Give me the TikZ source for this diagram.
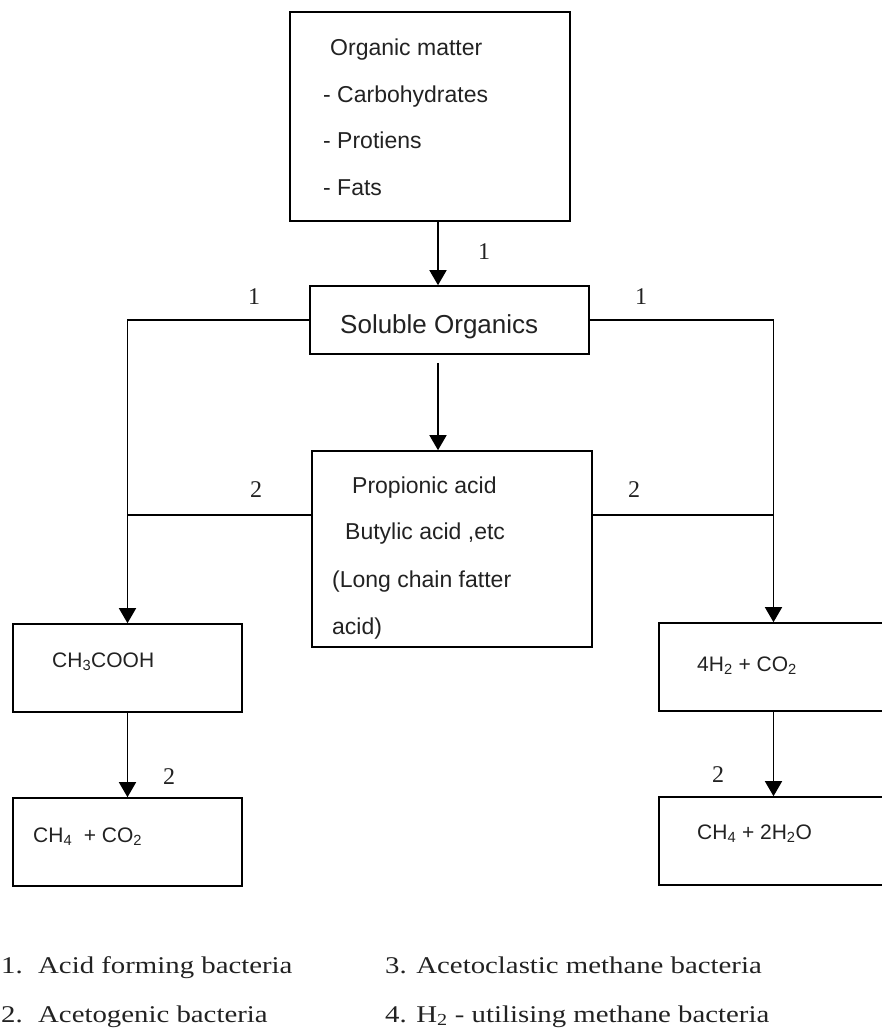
\documentclass[tikz,border=0pt]{standalone}
\usepackage{fontspec}
\setmainfont{Liberation Serif}
\newfontfamily\boxfont{Liberation Sans}
\newfontfamily\legfont[FakeStretch=1.2]{Liberation Serif}
\usetikzlibrary{arrows.meta}
\definecolor{ink}{HTML}{222222}
\tikzset{
  box/.style={draw=black, line width=1.6pt, minimum width=#1, inner sep=0pt},
  conn/.style={line width=1.5pt, draw=black},
  arr/.style={conn, -{Triangle[length=15pt,width=17pt]}},
  btxt/.style={font=\boxfont\fontsize{23pt}{27pt}\selectfont, text=ink, inner sep=0pt, anchor=base west},
  stxt/.style={font=\boxfont\fontsize{21pt}{25pt}\selectfont, text=ink, inner sep=0pt, anchor=base west},
  num/.style={font=\fontsize{24pt}{28pt}\selectfont, text=ink, inner sep=0pt},
  leg/.style={font=\legfont\fontsize{24pt}{28pt}\selectfont, text=ink, inner sep=0pt, anchor=base west}
}
\begin{document}
\begin{tikzpicture}[x=1pt,y=-1pt]
\useasboundingbox (0,0) rectangle (882,1028);
% boxes
\node[box=280pt, minimum height=209pt] (top) at (430,116.5) {};
\node[box=279pt, minimum height=68pt] (sol) at (449.5,320) {};
\node[box=280pt, minimum height=196pt] (prop) at (452,549) {};
\node[box=229pt, minimum height=88pt] (ch3) at (127.5,668) {};
\node[box=229pt, minimum height=88pt] (ch4a) at (127.5,842) {};
\node[box=229pt, minimum height=88pt] (h2) at (773.5,667) {};
\node[box=229pt, minimum height=88pt] (ch4b) at (773.5,841) {};
% texts in boxes
\node[btxt] (t1) at (330,55) {Organic matter};
\node[btxt] (t2) at (323,102) {- Carbohydrates};
\node[btxt] (t3) at (323,148) {- Protiens};
\node[btxt] (t4) at (323,195) {- Fats};
\node[btxt, font=\boxfont\fontsize{26pt}{30pt}\selectfont] (t5) at (340,333) {Soluble Organics};
\node[btxt] (t6) at (352,493) {Propionic acid};
\node[btxt] (t7) at (345,539) {Butylic acid ,etc};
\node[btxt] (t8) at (332,587) {(Long chain fatter};
\node[btxt] (t9) at (332,634) {acid)};
\node[stxt] (t10) at (52,667) {CH\textsubscript{3}COOH};
\node[stxt] (t11) at (33,842) {CH\textsubscript{4}\ \ + CO\textsubscript{2}};
\node[stxt] (t12) at (697,671) {4H\textsubscript{2} + CO\textsubscript{2}};
\node[stxt] (t13) at (697,839) {CH\textsubscript{4} + 2H\textsubscript{2}O};
% connectors
\coordinate (ax) at (438,0);
\coordinate (ly) at (0,515);
\draw[arr] (top.south -| ax) -- (sol.north -| ax);
\draw[arr] (sol.west) -| (ch3.north);
\draw[arr] (sol.east) -| (h2.north);
\draw[arr, shorten <=8pt] (sol.south -| ax) -- (prop.north -| ax);
\draw[conn] (prop.west |- ly) -- (ch3.north |- ly);
\draw[conn] (prop.east |- ly) -- (h2.north |- ly);
\draw[arr] (ch3.south) -- (ch4a.north);
\draw[arr] (h2.south) -- (ch4b.north);
% labels
\node[num] (n1) at (484,252) {1};
\node[num] (n2) at (254,297) {1};
\node[num] (n3) at (641,297) {1};
\node[num] (n4) at (256,490) {2};
\node[num] (n5) at (634,490) {2};
\node[num] (n6) at (169,777) {2};
\node[num] (n7) at (718,775) {2};
% legend
\node[leg] (l1n) at (1,973) {1.};
\node[leg] (l1) at (38,973) {Acid forming bacteria};
\node[leg] (l2n) at (1,1022) {2.};
\node[leg] (l2) at (38,1022) {Acetogenic bacteria};
\node[leg] (l3) at (385,973) {3. Acetoclastic methane bacteria};
\node[leg] (l4) at (385,1022) {4. H\textsubscript{2} - utilising methane bacteria};
\end{tikzpicture}
\end{document}
